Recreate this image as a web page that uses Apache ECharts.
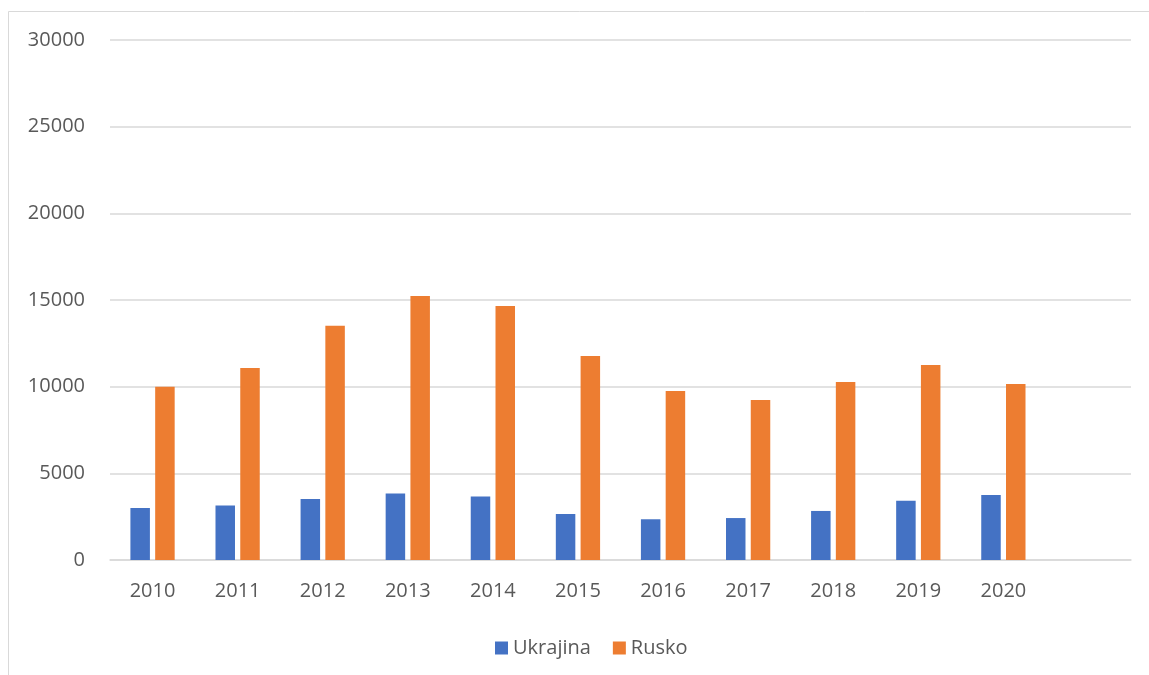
<!DOCTYPE html>
<html>
<head>
<meta charset="utf-8">
<script src="https://cdn.jsdelivr.net/npm/echarts@6/dist/echarts.min.js"></script>
<style>
  html, body { margin: 0; padding: 0; background: #ffffff; }
  #chart { width: 1149px; height: 675px; }
</style>
</head>
<body>
<div id="chart"></div>
<script>
// years on the x axis (last slot is empty, as in the source chart)
var years = ["2010", "2011", "2012", "2013", "2014", "2015", "2016", "2017", "2018", "2019", "2020", ""];
var ukrajina = [3000, 3150, 3520, 3830, 3670, 2650, 2350, 2420, 2830, 3420, 3750, null];
var rusko = [10000, 11080, 13520, 15230, 14650, 11770, 9750, 9230, 10270, 11250, 10150, null];
var yTicks = { min: 0, max: 30000, step: 5000 };

var labelFont = { fontFamily: "Open Sans", fontSize: 20, color: "#595959" };

var myChart = echarts.init(document.getElementById("chart"));
var option = {
  backgroundColor: "#ffffff",
  animation: false,
  graphic: [
    {
      type: "rect",
      shape: { x: 8.5, y: 11.5, width: 1200, height: 700 },
      style: { fill: "none", stroke: "#d9d9d9", lineWidth: 1 },
      silent: true
    }
  ],
  grid: {
    left: 110,
    right: 18,
    top: 40,
    bottom: 115
  },
  legend: {
    left: 490,
    top: 633,
    itemWidth: 13,
    itemHeight: 13,
    itemGap: 22,
    icon: "rect",
    textStyle: labelFont,
    data: ["Ukrajina", "Rusko"]
  },
  xAxis: {
    type: "category",
    data: years,
    axisLine: { lineStyle: { color: "#d9d9d9", width: 1.5 } },
    axisTick: { show: false },
    axisLabel: Object.assign({ margin: 21 }, labelFont)
  },
  yAxis: {
    type: "value",
    min: yTicks.min,
    max: yTicks.max,
    interval: yTicks.step,
    axisLine: { show: false },
    axisTick: { show: false },
    splitLine: { lineStyle: { color: "#d9d9d9", width: 1.5 } },
    axisLabel: Object.assign({
      margin: 25,
      formatter: function(v) { return String(v); }
    }, labelFont)
  },
  series: [
    {
      name: "Ukrajina",
      type: "bar",
      data: ukrajina,
      barWidth: 19.5,
      barGap: "27%",
      itemStyle: { color: "#4472C4" }
    },
    {
      name: "Rusko",
      type: "bar",
      data: rusko,
      barWidth: 19.5,
      barGap: "27%",
      itemStyle: { color: "#ED7D31" }
    }
  ]
};
myChart.setOption(option);
</script>
</body>
</html>
